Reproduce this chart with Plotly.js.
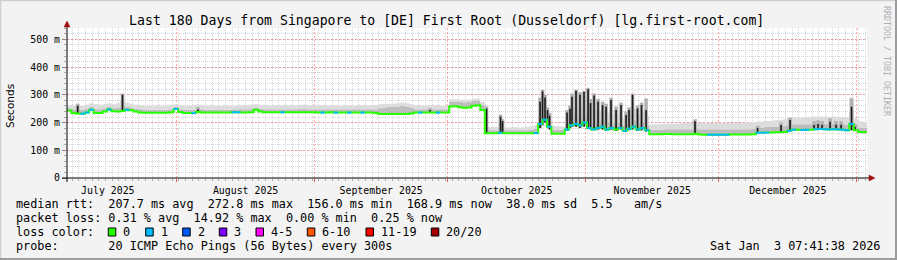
<!DOCTYPE html>
<html><head><meta charset="utf-8">
<script src="https://cdn.plot.ly/plotly-3.0.1.min.js"></script>
<style>html,body{margin:0;padding:0;background:#f3f3f3;}#chart{width:897px;height:260px;}</style>
</head><body><div id="chart"></div>
<script>
// ---------- data ----------
const rangeStart = '2025-07-07 07:41:38';
const rangeEnd = '2026-01-03 07:41:38';
// one value per day, starting at rangeStart
const medianRtt = [
243,234,233,232,236,246,234,234,240,247,
241,240,242,246,244,240,236,235,235,235,
235,235,235,237,249,238,234,234,234,238,
236,236,236,236,236,236,236,237,237,236,
236,237,246,240,237,237,237,237,237,237,
237,237,237,237,237,237,236,236,236,237,
236,236,236,236,236,236,236,236,236,234,
231,231,231,231,231,231,231,233,236,236,
236,236,236,236,236,236,258,259,255,253,
254,261,262,245,161,161,161,163,161,161,
161,161,161,161,161,162,195,210,185,160,
160,160,175,190,195,190,200,180,175,180,
185,175,180,175,180,170,178,185,175,180,
172,158,158,158,159,159,158,158,158,158,
158,160,157,156,156,156,156,156,156,157,
157,157,157,157,158,163,163,164,164,165,
165,166,170,174,174,173,174,174,176,177,
176,175,176,175,174,172,195,172,166,165];
const smokeMid = [
252,248,250,246,250,256,248,248,252,256,
252,254,262,256,254,250,248,246,246,246,
246,246,246,248,256,248,246,246,246,250,
248,246,246,246,246,246,246,248,248,248,
248,250,254,250,248,248,248,248,248,248,
248,248,250,250,248,248,248,248,248,248,
248,248,248,248,248,248,248,248,248,248,
252,254,256,258,258,260,258,254,248,248,
248,248,248,248,248,248,276,276,274,272,
274,278,278,264,174,172,172,182,172,172,
172,172,172,172,174,178,220,230,205,174,
174,174,195,215,220,215,225,210,200,205,
210,200,205,195,200,190,198,210,195,200,
190,174,174,174,176,176,176,176,176,176,
176,178,176,176,176,176,176,176,176,176,
176,176,176,176,178,182,182,184,184,186,
186,188,192,194,194,194,194,194,196,196,
196,194,196,194,194,192,240,192,182,180];
const smokeTop = [
262,262,266,260,264,270,266,264,266,270,
266,270,282,272,268,264,262,260,260,260,
262,260,260,262,266,262,260,260,262,264,
262,260,262,260,260,262,260,260,262,262,
262,264,266,262,262,262,262,262,262,262,
262,262,264,264,262,262,262,262,260,262,
262,260,262,262,260,262,262,262,262,262,
266,268,268,268,270,272,270,266,262,262,
260,262,262,262,260,262,284,284,282,282,
282,286,286,274,186,184,184,196,182,182,
184,182,182,184,186,190,250,260,235,188,
186,186,220,245,255,250,255,250,245,245,
240,235,245,225,240,215,230,250,230,240,
225,192,194,194,196,196,196,196,198,198,
198,200,198,198,198,198,198,198,198,198,
198,198,198,200,202,204,204,206,206,208,
210,212,216,218,218,218,220,220,222,222,
222,220,222,220,220,216,290,215,205,200];
// pings lost per day (0 = green, 1 = light blue)
const lossCount = [
0,0,0,1,1,1,0,0,0,1, 0,0,0,1,0,0,0,0,0,0,
0,0,0,0,1,0,0,0,1,0, 0,0,0,0,0,0,0,1,1,0,
0,0,0,0,0,0,0,0,1,0, 0,0,0,0,0,0,0,1,0,0,
1,0,0,1,0,0,1,0,0,0, 0,0,0,0,0,0,0,0,0,1,
0,0,0,1,0,0,0,0,0,0, 0,0,0,0,0,0,0,1,0,0,
0,0,0,0,0,1,1,1,1,0, 0,0,1,1,1,1,1,1,1,1,
1,1,1,0,1,1,1,1,1,1, 1,0,0,0,0,0,0,0,0,0,
0,0,0,0,1,1,1,1,1,0, 0,0,0,0,0,1,1,1,0,0,
0,0,1,1,0,1,1,0,1,1, 1,1,1,1,1,1,1,0,0,0];
// dense smoke spikes
const spikeTime = ['2025-07-09 17:30','2025-07-19 19:25','2025-08-05 19:12','2025-09-27 00:00',
'2025-10-09 17:17','2025-10-12 20:53','2025-10-13 07:41','2025-10-21 18:14','2025-10-22 07:41',
'2025-10-22 21:07','2025-10-23 10:34','2025-10-23 21:22','2025-10-27 19:55','2025-10-28 12:00',
'2025-10-28 22:48','2025-10-29 20:24','2025-10-30 18:00','2025-10-31 15:36','2025-11-01 13:26',
'2025-11-02 02:53','2025-11-02 21:50','2025-11-03 19:26','2025-11-04 19:41','2025-11-05 14:38',
'2025-11-06 17:31','2025-11-07 20:38','2025-11-08 23:31','2025-11-10 02:38','2025-11-10 18:43',
'2025-11-11 13:41','2025-11-12 16:34','2025-11-13 14:10','2025-11-14 14:38','2025-11-25 15:07',
'2025-12-09 16:48','2025-12-14 23:31','2025-12-17 00:14','2025-12-22 09:50','2025-12-23 07:26',
'2025-12-24 05:02','2025-12-26 00:14','2025-12-27 08:38','2025-12-28 11:46','2025-12-30 20:24',
'2025-12-31 15:22'];
const spikeBase = [233,242,238,236,161,162,162,180,190,200,185,175,170,180,185,185,180,185,180,
175,175,175,175,170,175,170,175,170,172,175,170,172,168,158,163,165,170,174,176,176,176,175,174,172,172];
const spikeTop = [260,300,247,245,250,221,205,275,312,290,245,225,236,250,293,315,300,310,320,
270,298,275,263,257,281,245,263,227,245,300,251,263,245,205,180,191,209,191,195,192,203,192,192,257,185];
const spikeHaze = [268,305,255,252,258,228,212,290,318,300,255,235,245,262,305,318,310,315,325,
285,305,285,275,268,290,258,272,240,255,305,262,272,287,212,188,200,218,205,208,205,215,205,205,287,195];
const yTickVals = [0,100,200,300,400,500];
const yTickText = ['0','100 m','200 m','300 m','400 m','500 m'];
const lossLabels = ['0','1','2','3','4-5','6-10','11-19','20/20'];
const lossColors = ['#26ff00','#00b8ff','#0059ff','#7e00ff','#ff00ff','#ff5500','#ff0000','#a10000'];
const titleText = 'Last 180 Days from Singapore to [DE] First Root (Dusseldorf) [lg.first-root.com]';
const legendRows = [
 'median rtt:  207.7 ms avg  272.8 ms max  156.0 ms min  168.9 ms now  38.0 ms sd  5.5   am/s',
 'packet loss: 0.31 % avg  14.92 % max  0.00 % min  0.25 % now',
 'loss color:',
 'probe:       20 ICMP Echo Pings (56 Bytes) every 300s'];
const stampText = 'Sat Jan  3 07:41:38 2026';

// ---------- build ----------
const L=67, T=28, W=800, H=150, BOT=T+H;
const px = x => (x-L)/W, py = y => (BOT-y)/H;
const DAY = 86400000;
const t0 = Date.UTC(2025,6,7,7,41,38);
const xs = medianRtt.map((_,i)=>t0+i*DAY).concat([t0+medianRtt.length*DAY]);
const ext = a => a.concat([a[a.length-1]]);
const nb = s => s.replace(/ /g,'\u00a0');
const mono = 'DejaVu Sans Mono, monospace';

const traces = [];
traces.push({x:xs,y:ext(medianRtt),mode:'lines',line:{width:0,shape:'hv'},hoverinfo:'skip'});
traces.push({x:xs,y:ext(smokeMid),mode:'lines',line:{width:0,shape:'hv'},fill:'tonexty',fillcolor:'#bdbdbd',hoverinfo:'skip'});
traces.push({x:xs,y:ext(smokeTop),mode:'lines',line:{width:0,shape:'hv'},fill:'tonexty',fillcolor:'#dcdcdc',hoverinfo:'skip'});
const hx=[],hy=[],cx=[],cy=[];
spikeTime.forEach((t,i)=>{hx.push(t,t,null);hy.push(spikeBase[i],spikeHaze[i],null);
  cx.push(t,t,null);cy.push(spikeBase[i],spikeTop[i],null);});
traces.push({x:hx,y:hy,mode:'lines',line:{width:3.5,color:'#b0b0b0'},connectgaps:false,hoverinfo:'skip'});
traces.push({x:cx,y:cy,mode:'lines',line:{width:1.6,color:'#1a1a1a'},connectgaps:false,hoverinfo:'skip'});
traces.push({x:xs,y:ext(medianRtt),mode:'lines',line:{width:2,color:lossColors[0],shape:'hv'},hoverinfo:'skip'});
const bx=[],by=[];
lossCount.forEach((v,i)=>{ if(v===1){bx.push(xs[i],xs[i+1],null);by.push(medianRtt[i],medianRtt[i],null);} });
traces.push({x:bx,y:by,mode:'lines',line:{width:2,color:lossColors[1]},connectgaps:false,hoverinfo:'skip'});

const shapes = [], annotations = [];
// axes with arrows
shapes.push({type:'line',xref:'paper',yref:'paper',x0:px(62),x1:px(870),y0:0,y1:0,line:{color:'#000',width:1}});
shapes.push({type:'path',xref:'paper',yref:'paper',path:`M${px(869)},${py(175)} L${px(875)},${py(178)} L${px(869)},${py(181)} Z`,fillcolor:'#a01010',line:{color:'#a01010',width:0.5}});
shapes.push({type:'line',xref:'paper',yref:'paper',x0:0,x1:0,y0:py(182),y1:py(26),line:{color:'#000',width:1}});
shapes.push({type:'path',xref:'paper',yref:'paper',path:`M${px(64)},${py(27)} L${px(67)},${py(21)} L${px(70)},${py(27)} Z`,fillcolor:'#a01010',line:{color:'#a01010',width:0.5}});
// frame
shapes.push({type:'line',xref:'paper',yref:'paper',x0:px(0),x1:px(897),y0:py(0.5),y1:py(0.5),line:{color:'#cfcfcf',width:1.5}});
shapes.push({type:'line',xref:'paper',yref:'paper',x0:px(0.5),x1:px(0.5),y0:py(0),y1:py(260),line:{color:'#cfcfcf',width:1.5}});
shapes.push({type:'line',xref:'paper',yref:'paper',x0:px(0),x1:px(897),y0:py(259),y1:py(259),line:{color:'#9c9c9c',width:2}});
shapes.push({type:'line',xref:'paper',yref:'paper',x0:px(896),x1:px(896),y0:py(0),y1:py(260),line:{color:'#9c9c9c',width:2}});
// loss colour boxes
const boxX = [108.3,145.7,182.7,219.3,256,307.3,366,431.3];
lossLabels.forEach((lab,i)=>{
  shapes.push({type:'rect',xref:'paper',yref:'paper',x0:px(boxX[i]),x1:px(boxX[i]+7.5),y0:py(228),y1:py(236),
    fillcolor:lossColors[i],line:{color:'#000',width:1}});
  annotations.push({xref:'paper',yref:'paper',x:px(boxX[i]+14),y:py(232.3),xanchor:'left',yanchor:'middle',
    text:nb(lab),showarrow:false,borderpad:0,font:{family:mono,size:11.8,color:'#000'}});
});
const rowY = [204.3,218.3,232.3,246.2];
legendRows.forEach((r,i)=>annotations.push({xref:'paper',yref:'paper',x:px(15),y:py(rowY[i]),xanchor:'left',yanchor:'middle',
  text:nb(r),showarrow:false,borderpad:0,font:{family:mono,size:11.8,color:'#000'}}));
annotations.push({xref:'paper',yref:'paper',x:px(881),y:py(rowY[3]),xanchor:'right',yanchor:'middle',
  text:nb(stampText),showarrow:false,borderpad:0,font:{family:mono,size:11.8,color:'#000'}});
annotations.push({xref:'paper',yref:'paper',x:px(10),y:py(106),xanchor:'center',yanchor:'middle',textangle:-90,
  text:'Seconds',showarrow:false,borderpad:0,font:{family:'DejaVu Sans, sans-serif',size:10.5,color:'#000'}});
annotations.push({xref:'paper',yref:'paper',x:px(887),y:py(5),xanchor:'center',yanchor:'top',textangle:90,
  text:nb('RRDTOOL / TOBI OETIKER'),showarrow:false,borderpad:0,font:{family:mono,size:8.3,color:'#b0b0b0'}});

const layout = {
  width:897, height:260, margin:{l:L,r:897-L-W,t:T,b:260-BOT,pad:0},
  paper_bgcolor:'#f3f3f3', plot_bgcolor:'#ffffff', showlegend:false,
  title:{text:titleText, x:446.7/897, y:1-20/260, xref:'container', yref:'container', xanchor:'center', yanchor:'middle',
    font:{family:mono,size:13.2,color:'#000'}},
  xaxis:{type:'date', range:[rangeStart,rangeEnd], dtick:'M1', tick0:'2025-07-01', tickformat:'%B %Y', ticklabelmode:'period',
    ticks:'outside', ticklen:3, tickcolor:'#e06060', showgrid:true, gridcolor:'rgba(255,60,60,0.45)', griddash:'2px,2px', gridwidth:1,
    showline:false, zeroline:false, tickfont:{family:mono,size:9.9,color:'#000'},
    minor:{dtick:1.5*DAY, tick0:'2025-07-01', showgrid:true, gridcolor:'#d6d6d6', griddash:'1px,1px', gridwidth:1, ticks:'outside', ticklen:2, tickcolor:'#aaaaaa'}},
  yaxis:{range:[0,541], tickvals:yTickVals, ticktext:yTickText, ticks:'outside', ticklen:4, tickcolor:'#888',
    showgrid:true, gridcolor:'rgba(255,60,60,0.45)', griddash:'2px,2px', zeroline:false, showline:false,
    tickfont:{family:mono,size:9.9,color:'#000'},
    minor:{dtick:20, showgrid:true, gridcolor:'#d6d6d6', griddash:'1px,1px', ticks:'outside', ticklen:2, tickcolor:'#aaaaaa'}},
  shapes:shapes, annotations:annotations
};
Plotly.newPlot('chart', traces, layout, {staticPlot:true, displayModeBar:false});
</script></body></html>
